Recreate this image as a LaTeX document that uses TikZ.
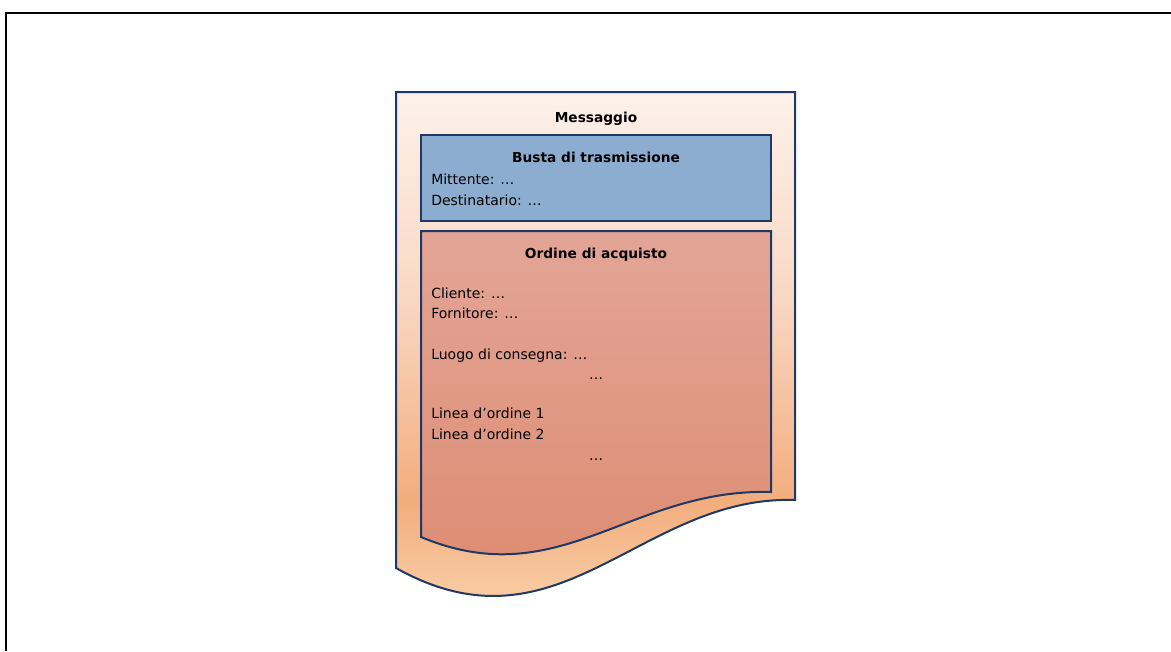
\documentclass[tikz,border=0pt]{standalone}
\usepackage{fontspec}
\setmainfont{DejaVu Sans}
\definecolor{navy}{RGB}{31,56,100}
\definecolor{docTop}{RGB}{253,241,234}
\definecolor{docUp}{RGB}{249,216,196}
\definecolor{docMid}{RGB}{243,173,125}
\definecolor{docBot}{RGB}{248,202,162}
\definecolor{bustaBlue}{RGB}{141,173,208}
\definecolor{ordTop}{RGB}{227,165,151}
\definecolor{ordBot}{RGB}{221,139,112}
\pgfdeclareverticalshading{docshade}{100bp}{color(0bp)=(docBot); color(31bp)=(docBot); color(39bp)=(docMid); color(57bp)=(docUp); color(75bp)=(docTop); color(100bp)=(docTop)}
\tikzset{
  titolo/.style={anchor=base,inner sep=0pt,font=\fontsize{10.3}{12}\selectfont\bfseries},
  riga/.style={anchor=base west,inner sep=0pt,font=\fontsize{10.5}{12}\selectfont},
  puntini/.style={anchor=base,inner sep=0pt,font=\fontsize{10.5}{12}\selectfont}
}
\begin{document}
\begin{tikzpicture}[x=0.75pt,y=-0.75pt]
\useasboundingbox (0,0) rectangle (1171,651);
\draw[line width=1.8pt] (6,651) -- (6,13) -- (1171,13);
\draw[line width=1.5pt,navy][shading=docshade] (396,92) -- (795,92) -- (795,500) .. controls (640,495) and (560,660) .. (396,568) -- cycle;
\draw[line width=1.5pt,navy][fill=bustaBlue] (421,135) rectangle (771,221);
\draw[line width=1.5pt,navy][top color=ordTop,bottom color=ordBot] (421,231) -- (771,231) -- (771,492) .. controls (630,488) and (560,595) .. (421,537) -- cycle;
\node[titolo] (msg) at (596,122){Messaggio};
\node[titolo] (busta) at (596,162){Busta di trasmissione};
\node[riga] (mitt) at (431,184){Mittente: …};
\node[riga] (dest) at (431,205){Destinatario: …};
\node[titolo] (ordine) at (596,258){Ordine di acquisto};
\node[riga] (cli) at (431,298){Cliente: …};
\node[riga] (forn) at (431,318){Fornitore: …};
\node[riga] (luogo) at (431,359){Luogo di consegna: …};
\node[puntini] (dots1) at (596,379){…};
\node[riga] (lin1) at (431,418){Linea d’ordine 1};
\node[riga] (lin2) at (431,439){Linea d’ordine 2};
\node[puntini] (dots2) at (596,460){…};
\end{tikzpicture}
\end{document}
